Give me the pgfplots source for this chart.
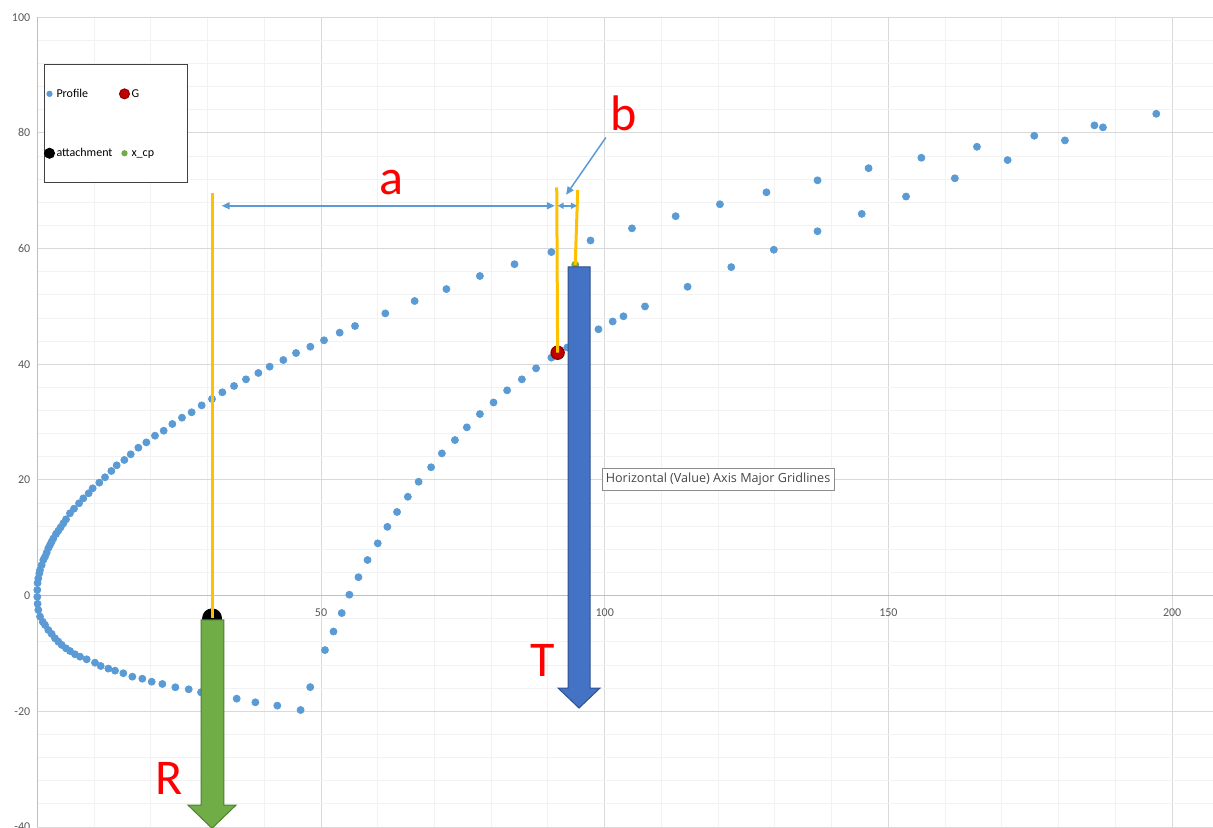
\documentclass[border=0pt]{standalone}
\usepackage{fontspec}
\setmainfont{Carlito}
\newfontfamily\tipfont{Open Sans}
\usepackage{pgfplots}
\pgfplotsset{compat=1.18}
\usetikzlibrary{arrows.meta}

\definecolor{profile}{HTML}{5B9BD5}
\definecolor{gred}{HTML}{C00000}
\definecolor{xcp}{HTML}{70AD47}
\definecolor{tblue}{HTML}{4472C4}
\definecolor{tblueedge}{HTML}{2F528F}
\definecolor{redge}{HTML}{507E32}
\definecolor{yel}{HTML}{FFC000}
\definecolor{ticktxt}{HTML}{595959}
\definecolor{majgrid}{HTML}{D9D9D9}
\definecolor{mingrid}{HTML}{F2F2F2}
\definecolor{zeroline}{HTML}{BFBFBF}

\begin{document}
\begin{tikzpicture}
\begin{axis}[
  set layers,
  scale only axis, width=587.85pt, height=404.95pt,
  xmin=0, xmax=207.2, ymin=-40, ymax=100,
  axis x line=middle, axis y line=left,
  axis line style={-, draw=zeroline, line width=0.6pt},
  xtick={0,50,100,150,200}, xticklabels={0,50,100,150,200},
  ytick={-40,-20,0,20,40,60,80,100},
  yticklabels={-40,-20,0,20,40,60,80,100},
  minor x tick num=4, minor y tick num=4,
  major tick length=0pt, minor tick length=0pt,
  grid=both,
  major grid style={draw=majgrid, line width=0.5pt},
  minor grid style={draw=mingrid, line width=0.5pt},
  tick label style={font=\fontsize{6}{7}\selectfont, text=ticktxt},
  xticklabel style={yshift=-3pt},
  clip=false,
  legend columns=2,
  legend cell align=left,
  legend image code/.code={\draw[mark repeat=2,mark phase=2,#1] plot coordinates {(0pt,0pt)(2.5pt,0pt)(5pt,0pt)};},
  legend style={at={(axis description cs:0.0057,0.942)}, anchor=north west,
    draw=black!75, line width=0.5pt, fill=white,
    font=\fontsize{6}{7}\selectfont,
    inner xsep=0pt, inner ysep=11pt, row sep=22.5pt,
    nodes={inner sep=1pt, text height=4.2pt, text depth=1pt}},
  /tikz/every even column/.append style={column sep=2.5pt},
  /tikz/column 4/.style={nodes={text width=27pt}},
]
% profile points
\addplot[only marks, mark=*, mark size=1.75pt, mark options={draw=profile, fill=profile}, forget plot] coordinates {
  (197.2,83.3) (186.3,81.3) (175.7,79.5) (165.6,77.6) (155.8,75.7) (146.5,73.9)
  (137.5,71.8) (128.5,69.73) (120.3,67.66) (112.5,65.6) (104.8,63.5) (97.5,61.4)
  (90.6,59.4) (84.1,57.3) (78.0,55.26) (72.1,53.0) (66.5,50.94) (61.33,48.8)
  (55.99,46.62) (53.29,45.47) (50.53,44.15) (48.12,43.04) (45.6,41.95) (43.36,40.74)
  (40.95,39.59) (38.96,38.5) (36.78,37.4) (34.67,36.25) (32.61,35.16) (30.79,34.0)
  (28.97,32.9) (27.2,31.7) (25.5,30.77) (23.8,29.68) (22.27,28.52) (20.74,27.66)
  (19.22,26.5) (17.81,25.58) (16.46,24.44) (15.34,23.46) (13.99,22.54) (13.05,21.56)
  (11.93,20.47) (10.93,19.54) (9.76,18.57) (9.05,17.7) (8.11,16.83) (7.35,15.97)
  (6.47,15.04) (5.76,14.24) (5.06,13.2) (4.59,12.51) (4.12,11.82) (3.71,11.24)
  (3.3,10.67) (2.83,9.9) (2.53,9.33) (2.24,8.76) (1.94,8.19) (1.65,7.44)
  (1.36,6.75) (1.06,6.17) (0.77,5.3) (0.48,4.44) (0.36,3.87) (0.18,3.0)
  (0.05,2.2) (0.0,1.0) (0.0,-0.2) (0.05,-1.4)
  (0.18,-2.47) (0.48,-3.6) (0.95,-4.5) (1.36,-5.06) (1.94,-5.93) (2.53,-6.6)
  (3.12,-7.36) (3.71,-7.95) (4.29,-8.5) (5.06,-9.1) (5.76,-9.56) (6.64,-10.13)
  (7.53,-10.54) (8.7,-11.0) (10.17,-11.58) (11.17,-12.15) (12.52,-12.6) (13.7,-12.96)
  (15.16,-13.4) (16.75,-14.0) (18.51,-14.35) (20.16,-14.87) (22.04,-15.26) (24.33,-15.83)
  (26.68,-16.18) (28.85,-16.7) (31.4,-17.3) (35.14,-17.8) (38.43,-18.43) (42.3,-19.0)
  (46.4,-19.76) (48.1,-15.8) (50.7,-9.4) (52.2,-6.2) (53.65,-3.0) (55.0,0.17)
  (56.6,3.2) (58.2,6.17) (60.0,9.05) (61.7,11.9) (63.4,14.47) (65.3,17.1)
  (67.2,19.7) (69.4,22.2) (71.3,24.6) (73.6,26.9) (75.7,29.1) (78.0,31.4)
  (80.4,33.4) (82.8,35.5) (85.4,37.4) (87.9,39.3) (90.6,41.15) (93.4,42.9)
  (96.1,44.5) (98.9,46.05) (101.4,47.4) (103.3,48.3) (107.1,50.0) (114.6,53.4)
  (122.3,56.8) (129.8,59.8) (137.5,63.0) (145.3,66.0) (153.1,69.0) (161.7,72.15)
  (171.0,75.3) (181.1,78.7) (187.8,80.95)
};
% G
\addplot[only marks, mark=*, mark size=3.3pt, mark options={draw=gred!75!black, fill=gred, line width=0.6pt}, forget plot] coordinates {(91.7,42.0)};
% attachment
\addplot[only marks, mark=*, mark size=4.75pt, mark options={draw=black, fill=black}, forget plot] coordinates {(30.8,-3.9)};
% x_cp
\addplot[only marks, mark=*, mark size=1.75pt, mark options={draw=xcp, fill=xcp}, forget plot] coordinates {(94.8,57.2)};

\addlegendimage{only marks, mark=*, mark size=1.3pt, mark options={draw=profile, fill=profile}}
\addlegendentry{Profile}
\addlegendimage{only marks, mark=*, mark size=2.5pt, mark options={draw=gred!75!black, fill=gred}}
\addlegendentry{G}
\addlegendimage{only marks, mark=*, mark size=2.5pt, mark options={draw=black, fill=black}}
\addlegendentry{attachment}
\addlegendimage{only marks, mark=*, mark size=1.3pt, mark options={draw=xcp, fill=xcp}}
\addlegendentry{x\_cp}

\pgfplotsonlayer{axis foreground}
% yellow reference lines
\draw[yel, line width=1.5pt] (axis cs:30.85,69.6) -- (axis cs:30.85,-3.9);
\draw[yel, line width=1.5pt] (axis cs:91.54,70.6) -- (axis cs:91.7,42.0);
\draw[yel, line width=1.5pt] (axis cs:95.24,70.1) -- (axis cs:94.8,57.2);

% dimension arrows
\draw[profile, line width=0.75pt, {Triangle[length=4pt,width=3.5pt]}-{Triangle[length=4pt,width=3.5pt]}]
  (axis cs:32.5,67.4) -- (axis cs:91.2,67.4);
\draw[profile, line width=0.75pt, {Triangle[length=3pt,width=3pt]}-{Triangle[length=3pt,width=3pt]}]
  (axis cs:91.7,67.4) -- (axis cs:95.1,67.4);
\draw[profile, line width=0.75pt, -{Triangle[length=4pt,width=3.5pt]}]
  (axis cs:100.2,79.2) -- (axis cs:93.2,69.3);

% force arrows
\filldraw[fill=tblue, draw=tblueedge, line width=0.5pt]
  (axis cs:93.53,56.82) -- (axis cs:97.41,56.82) -- (axis cs:97.41,-15.96)
  -- (axis cs:99.17,-15.96) -- (axis cs:95.47,-19.42) -- (axis cs:91.77,-15.96)
  -- (axis cs:93.53,-15.96) -- cycle;
\filldraw[fill=xcp, draw=redge, line width=0.5pt]
  (axis cs:28.85,-4.2) -- (axis cs:32.9,-4.2) -- (axis cs:32.9,-36.2)
  -- (axis cs:35.02,-36.2) -- (axis cs:30.79,-40.2) -- (axis cs:26.56,-36.2)
  -- (axis cs:28.85,-36.2) -- cycle;

% letters
\node[text=red, font=\fontsize{25}{30}\selectfont, anchor=base, inner sep=0pt] at (axis cs:62.46,69.27) {a};
\node[text=red, font=\fontsize{25}{30}\selectfont, anchor=base, inner sep=0pt] at (axis cs:103.4,80.38) {b};
\node[text=red, font=\fontsize{25}{30}\selectfont, anchor=base, inner sep=0pt] at (axis cs:89.07,-14.0) {T};
\node[text=red, font=\fontsize{25}{30}\selectfont, anchor=base, inner sep=0pt] at (axis cs:23.2,-34.45) {R};

% tooltip
\node[draw=black!45, fill=white, text=black!72, font=\tipfont\fontsize{6.3}{7.5}\selectfont,
  minimum width=116pt, minimum height=11pt, inner sep=1pt] at (axis cs:119.97,20.17)
  {Horizontal (Value) Axis Major Gridlines};
\endpgfplotsonlayer

\coordinate (bl) at (rel axis cs:0,0);
\coordinate (tr) at (rel axis cs:1,1);
\end{axis}
\pgfresetboundingbox
\path[use as bounding box] ([xshift=-18.65pt,yshift=-0.45pt]bl) rectangle ([yshift=8.6pt]tr);
\end{tikzpicture}
\end{document}
